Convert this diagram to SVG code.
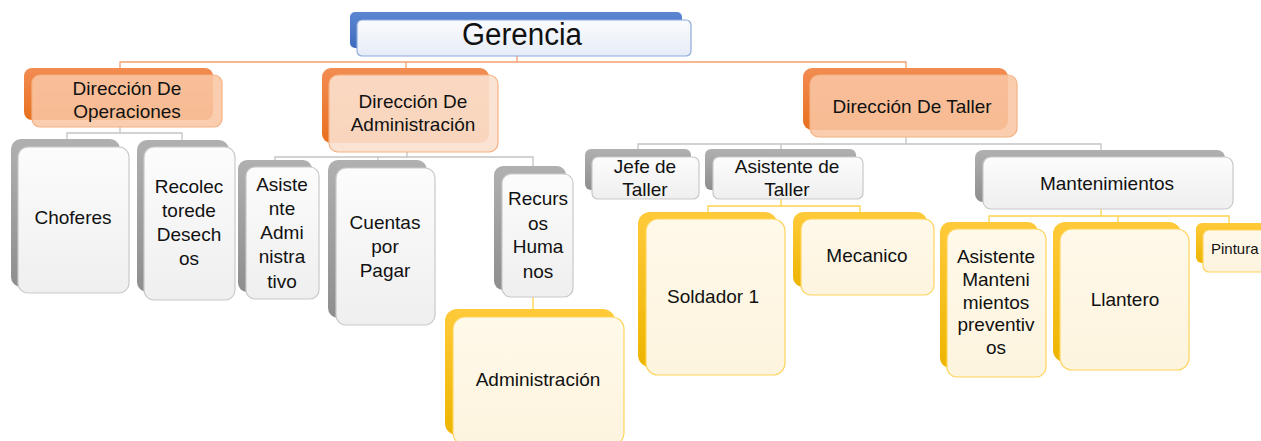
<svg xmlns="http://www.w3.org/2000/svg" width="1261" height="441" viewBox="0 0 1261 441">
<defs>
<linearGradient id="gBlue" x1="0" y1="0" x2="0" y2="1"><stop offset="0" stop-color="#5B86D0"/><stop offset="1" stop-color="#3F6BBF"/></linearGradient>
<linearGradient id="gBlueF" x1="0" y1="0" x2="0" y2="1"><stop offset="0" stop-color="#FAFBFE"/><stop offset="1" stop-color="#E6ECF7"/></linearGradient>
<linearGradient id="gOrange" x1="0" y1="0" x2="0" y2="1"><stop offset="0" stop-color="#F28C52"/><stop offset="1" stop-color="#E8701E"/></linearGradient>
<linearGradient id="gGray" x1="0" y1="0" x2="0" y2="1"><stop offset="0" stop-color="#B0B0B0"/><stop offset="1" stop-color="#8E8E8E"/></linearGradient>
<linearGradient id="gGrayF" x1="0" y1="0" x2="0" y2="1"><stop offset="0" stop-color="#FCFCFC"/><stop offset="1" stop-color="#EFEFEF"/></linearGradient>
<linearGradient id="gYellow" x1="0" y1="0" x2="0" y2="1"><stop offset="0" stop-color="#FFCA3A"/><stop offset="1" stop-color="#EDB500"/></linearGradient>
<linearGradient id="gYellowF" x1="0" y1="0" x2="0" y2="1"><stop offset="0" stop-color="#FFF9EA"/><stop offset="1" stop-color="#FDF4DE"/></linearGradient>
</defs>
<style>
text{font-family:"Liberation Sans",Arial,sans-serif;font-size:19px;fill:#111;text-anchor:middle}
.title{font-size:31px}
.small{font-size:15px;text-anchor:start}
.bB{fill:url(#gBlue)}
.fB{fill:url(#gBlueF);stroke:#8EAADB;stroke-width:1.2}
.bO{fill:url(#gOrange)}
.fO1{fill:#F9C6A4;fill-opacity:0.88;stroke:#F4B183;stroke-width:1.2}
.fO2{fill:#FBE0CE;fill-opacity:0.9;stroke:#F4B183;stroke-width:1.2}
.bG{fill:url(#gGray)}
.fG{fill:url(#gGrayF);stroke:#C9C9C9;stroke-width:1.2}
.bY{fill:url(#gYellow)}
.fY{fill:url(#gYellowF);stroke:#FFD45C;stroke-width:1.2}
.cO{fill:none;stroke:#F4A06E;stroke-width:1.3}
.cG{fill:none;stroke:#C4C4C4;stroke-width:1.3}
.cY{fill:none;stroke:#FFD24D;stroke-width:1.3}
</style>
<g id="connectors">
<path class="cO" d="M517,56 V62 M120,68 V62 H906 V68 M406,62 V68"/>
<path class="cG" d="M120,127 V133 M67,140 V133 H182 V140"/>
<path class="cG" d="M407,152 V157 M275,160 V157 H533 V166 M378,157 V160"/>
<path class="cY" d="M533,297 V310"/>
<path class="cG" d="M906,137 V144 M638,150 V144 H1101 V150 M781,144 V150"/>
<path class="cY" d="M781,199 V206 M708,212 V206 H860 V212"/>
<path class="cY" d="M1101,209 V216 M989,222 V216 H1229 V223 M1118,216 V222"/>
</g>
<g id="gerencia">
<rect class="bB" x="350" y="12" width="332" height="36" rx="5"/>
<rect class="fB" x="357" y="20" width="334" height="36" rx="5"/>
<text class="title" x="522" y="45" textLength="120" lengthAdjust="spacingAndGlyphs">Gerencia</text>
</g>
<g id="dir-operaciones">
<rect class="bO" x="24" y="68" width="189" height="52" rx="8"/>
<rect class="fO1" x="32" y="75" width="190" height="52" rx="8"/>
<text x="127" y="95">Dirección De</text>
<text x="127" y="118">Operaciones</text>
</g>
<g id="choferes">
<rect class="bG" x="11" y="139" width="109" height="148" rx="10"/>
<rect class="fG" x="18" y="147" width="111" height="146" rx="10"/>
<text x="73" y="224">Choferes</text>
</g>
<g id="recolectores">
<rect class="bG" x="137" y="140" width="92" height="152" rx="10"/>
<rect class="fG" x="144" y="147" width="91" height="153" rx="10"/>
<text x="189" y="193">Recolec</text>
<text x="189" y="217">torede</text>
<text x="189" y="241">Desech</text>
<text x="189" y="265">os</text>
</g>
<g id="dir-administracion">
<rect class="bO" x="322" y="68" width="167" height="75" rx="9"/>
<rect class="fO2" x="329" y="75" width="169" height="77" rx="9"/>
<text x="413" y="108">Dirección De</text>
<text x="413" y="131">Administración</text>
</g>
<g id="asistente-administrativo">
<rect class="bG" x="238" y="160" width="74" height="132" rx="9"/>
<rect class="fG" x="246" y="167" width="73" height="132" rx="9"/>
<text x="282" y="191">Asiste</text>
<text x="282" y="215">nte</text>
<text x="282" y="239">Admi</text>
<text x="282" y="263">nistra</text>
<text x="282" y="288">tivo</text>
</g>
<g id="cuentas-por-pagar">
<rect class="bG" x="328" y="160" width="99" height="158" rx="10"/>
<rect class="fG" x="336" y="168" width="99" height="157" rx="10"/>
<text x="385" y="229">Cuentas</text>
<text x="385" y="253">por</text>
<text x="385" y="277">Pagar</text>
</g>
<g id="recursos-humanos">
<rect class="bG" x="494" y="166" width="72" height="124" rx="9"/>
<rect class="fG" x="502" y="174" width="71" height="123" rx="9"/>
<text x="538" y="205">Recurs</text>
<text x="538" y="230">os</text>
<text x="538" y="253">Huma</text>
<text x="538" y="278">nos</text>
</g>
<g id="administracion">
<rect class="bY" x="445" y="309" width="170" height="126" rx="12"/>
<rect class="fY" x="453" y="317" width="171" height="128" rx="12"/>
<text x="538" y="386">Administración</text>
</g>
<g id="dir-taller">
<rect class="bO" x="803" y="68" width="205" height="62" rx="9"/>
<rect class="fO1" x="810" y="75" width="207" height="62" rx="9"/>
<text x="912" y="113">Dirección De Taller</text>
</g>
<g id="jefe-taller">
<rect class="bG" x="585" y="149" width="106" height="41" rx="6"/>
<rect class="fG" x="592" y="157" width="107" height="42" rx="6"/>
<text x="645" y="173">Jefe de</text>
<text x="645" y="196">Taller</text>
</g>
<g id="asistente-taller">
<rect class="bG" x="705" y="149" width="151" height="41" rx="6"/>
<rect class="fG" x="713" y="157" width="150" height="42" rx="6"/>
<text x="787" y="173">Asistente de</text>
<text x="787" y="196">Taller</text>
</g>
<g id="soldador">
<rect class="bY" x="638" y="212" width="139" height="155" rx="12"/>
<rect class="fY" x="646" y="219" width="139" height="156" rx="12"/>
<text x="713" y="303">Soldador 1</text>
</g>
<g id="mecanico">
<rect class="bY" x="793" y="212" width="134" height="75" rx="10"/>
<rect class="fY" x="801" y="219" width="133" height="76" rx="10"/>
<text x="867" y="262">Mecanico</text>
</g>
<g id="mantenimientos">
<rect class="bG" x="975" y="150" width="250" height="52" rx="8"/>
<rect class="fG" x="983" y="157" width="250" height="52" rx="8"/>
<text x="1107" y="190">Mantenimientos</text>
</g>
<g id="asistente-mantenimientos">
<rect class="bY" x="940" y="222" width="98" height="146" rx="10"/>
<rect class="fY" x="947" y="229" width="99" height="148" rx="10"/>
<text x="996" y="263">Asistente</text>
<text x="996" y="286">Manteni</text>
<text x="996" y="309">mientos</text>
<text x="996" y="331">preventiv</text>
<text x="996" y="354">os</text>
</g>
<g id="llantero">
<rect class="bY" x="1053" y="222" width="128" height="140" rx="12"/>
<rect class="fY" x="1060" y="229" width="129" height="141" rx="12"/>
<text x="1125" y="306">Llantero</text>
</g>
<g id="pintura">
<rect class="bY" x="1196" y="223" width="80" height="40" rx="6"/>
<rect class="fY" x="1203" y="230" width="80" height="42" rx="6"/>
<text class="small" x="1211" y="254">Pintura</text>
</g>
</svg>
